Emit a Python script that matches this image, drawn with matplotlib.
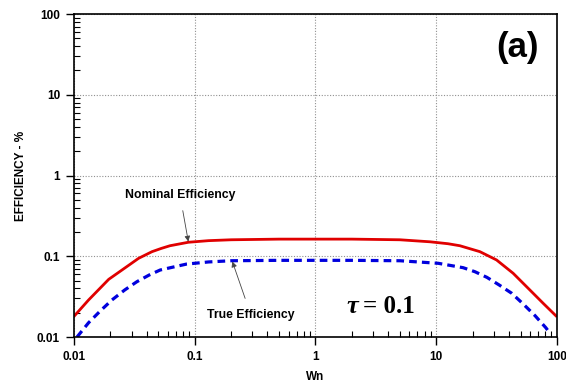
import matplotlib
matplotlib.use("Agg")
import matplotlib.pyplot as plt
from matplotlib.ticker import LogLocator, FixedLocator, NullFormatter

plt.rcParams['font.family'] = ['Liberation Sans', 'DejaVu Sans']

# Data
wn_nom = [0.01, 0.0132, 0.0194, 0.025, 0.0343, 0.0443, 0.0528, 0.0624, 0.0885, 0.13, 0.2, 0.5, 1, 2, 5,
          8.9, 12.5, 15.7, 23, 31.6, 43.4, 59.7, 77, 100]
eff_nom = [0.018, 0.0287, 0.0518, 0.0676, 0.0943, 0.114, 0.125, 0.135, 0.149, 0.156, 0.16, 0.163, 0.163, 0.163, 0.16,
           0.151, 0.143, 0.135, 0.114, 0.09, 0.0615, 0.0382, 0.0261, 0.0178]

wn_true = [0.0106, 0.0132, 0.0165, 0.0206, 0.0263, 0.0332, 0.042, 0.0518, 0.0855, 0.13, 0.2, 0.5, 1, 2, 5,
           10.4, 16.7, 20.9, 26.3, 33.3, 42.2, 52.6, 65.8, 81, 85]
eff_true = [0.01, 0.015, 0.021, 0.0287, 0.0382, 0.0484, 0.0586, 0.0676, 0.08, 0.085, 0.088, 0.089, 0.089, 0.089, 0.088,
            0.0818, 0.0722, 0.0644, 0.0548, 0.044, 0.0348, 0.0256, 0.0184, 0.013, 0.0118]

x_ticks = [0.01, 0.1, 1, 10, 100]
x_labels = ['0.01', '0.1', '1', '10', '100']
y_ticks = [0.01, 0.1, 1, 10, 100]
y_labels = ['0.01', '0.1', '1', '10', '100']

fig = plt.figure(figsize=(5.66, 3.83), dpi=100)
ax = fig.add_axes([0.1307, 0.1201, 0.8533, 0.8433])
ax.set_xscale('log')
ax.set_yscale('log')
ax.set_xlim(0.01, 100)
ax.set_ylim(0.01, 100)

ax.plot(wn_nom, eff_nom, color='#e00000', lw=2.0, solid_capstyle='butt', solid_joinstyle='round')
ax.plot(wn_true, eff_true, color='#0000dd', lw=2.3, dashes=(2.4, 1.6))

ax.xaxis.set_major_locator(FixedLocator(x_ticks))
ax.set_xticklabels(x_labels)
ax.yaxis.set_major_locator(FixedLocator(y_ticks))
ax.set_yticklabels(y_labels)
ax.xaxis.set_minor_locator(LogLocator(base=10, subs=range(2, 10), numticks=20))
ax.yaxis.set_minor_locator(LogLocator(base=10, subs=range(2, 10), numticks=20))
ax.xaxis.set_minor_formatter(NullFormatter())
ax.yaxis.set_minor_formatter(NullFormatter())

ax.tick_params(which='major', direction='out', length=6, width=1, labelsize=8.5, pad=4)
ax.tick_params(which='minor', direction='in', length=4, width=0.8)
ax.tick_params(top=False, right=False)
for lbl in ax.get_xticklabels() + ax.get_yticklabels():
    lbl.set_fontweight('bold')

ax.grid(True, which='major', color='#909090', linestyle=(0, (1, 1.5)), linewidth=0.8)
for sp in ax.spines.values():
    sp.set_linewidth(1.2)

ax.set_xlabel('Wn', fontsize=8.5, fontweight='bold', labelpad=6)
ax.set_ylabel('EFFICIENCY - %', fontsize=8.5, fontweight='bold', labelpad=7)

ax.annotate('Nominal Efficiency', xy=(0.0885, 0.152), xytext=(0.0755, 0.573),
            fontsize=8.8, fontweight='bold', ha='center', va='center',
            arrowprops=dict(arrowstyle='-|>', color='#444444', lw=0.6,
                            mutation_scale=8, shrinkA=5, shrinkB=0))
ax.annotate('True Efficiency', xy=(0.205, 0.086), xytext=(0.292, 0.0187),
            fontsize=8.8, fontweight='bold', ha='center', va='center',
            arrowprops=dict(arrowstyle='-|>', color='#444444', lw=0.6,
                            mutation_scale=8, shrinkA=6, shrinkB=0))

ax.text(0.588, 0.093, '\u03c4', transform=ax.transAxes, fontsize=19,
        fontweight='bold', fontstyle='italic', family='Liberation Serif',
        ha='right', va='center')
ax.text(0.598, 0.093, '= 0.1', transform=ax.transAxes, fontsize=18,
        fontweight='bold', family='Liberation Serif', ha='left', va='center')
ax.text(0.919, 0.895, '(a)', transform=ax.transAxes, fontsize=25,
        fontweight='bold', ha='center', va='center')

fig.savefig('out.png', dpi=100)
